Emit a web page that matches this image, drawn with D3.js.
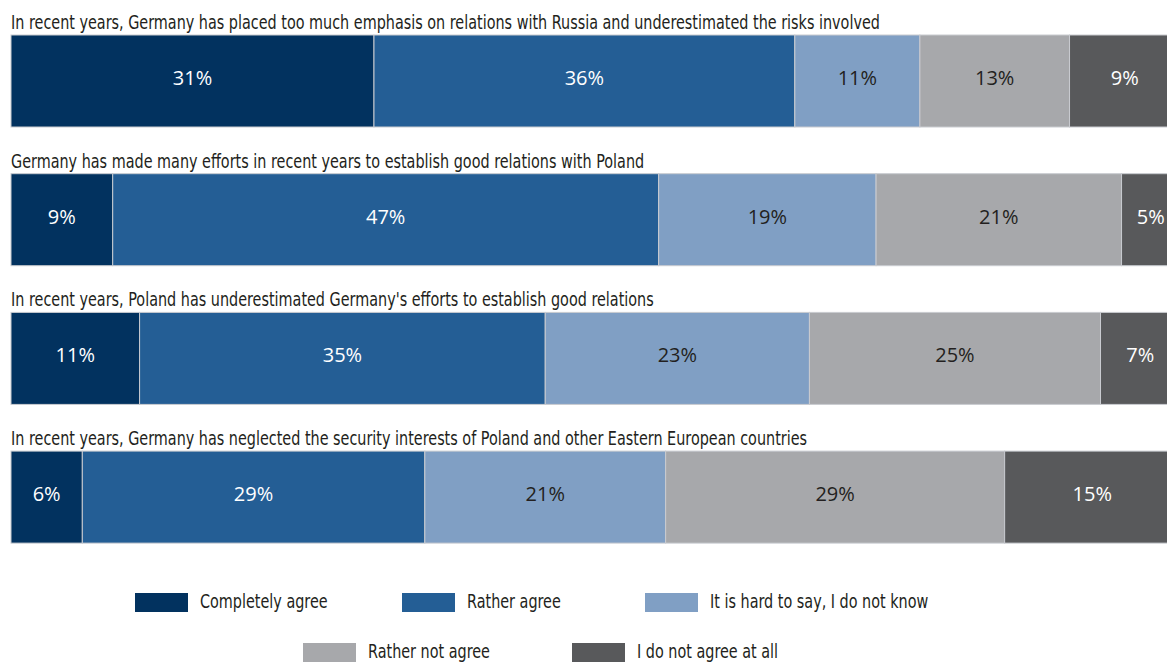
<!DOCTYPE html>
<html>
<head>
<meta charset="utf-8">
<script src="https://cdn.jsdelivr.net/npm/d3@7/dist/d3.min.js"></script>
<style>
  html, body { margin: 0; padding: 0; background: #fff; }
  svg { display: block; }
</style>
</head>
<body>
<svg id="chart" width="1167" height="664"></svg>
<script>
// ---- data ----
const statements = [
  "In recent years, Germany has placed too much emphasis on relations with Russia and underestimated the risks involved",
  "Germany has made many efforts in recent years to establish good relations with Poland",
  "In recent years, Poland has underestimated Germany's efforts to establish good relations",
  "In recent years, Germany has neglected the security interests of Poland and other Eastern European countries"
];
const categories = ["Completely agree", "Rather agree", "It is hard to say, I do not know", "Rather not agree", "I do not agree at all"];
// segment shares (%)
const completelyAgree = [31.05, 8.7, 11.0, 6.1];
const ratherAgree     = [36.0, 46.7, 34.7, 29.3];
const hardToSay       = [10.7, 18.6, 22.6, 20.6];
const ratherNotAgree  = [12.8, 21.0, 24.9, 29.0];
const notAgreeAtAll   = [9.45, 5.0, 6.8, 15.0];
// printed labels (%)
const labelCompletely = [31, 9, 11, 6];
const labelRather     = [36, 47, 35, 29];
const labelHard       = [11, 19, 23, 21];
const labelRatherNot  = [13, 21, 25, 29];
const labelNotAtAll   = [9, 5, 7, 15];

const colors = ["#02325f", "#245e95", "#809fc4", "#a7a8ab", "#58595b"];
const labelColors = ["#ffffff", "#ffffff", "#231f20", "#231f20", "#ffffff"];

const seriesValues = [completelyAgree, ratherAgree, hardToSay, ratherNotAgree, notAgreeAtAll];
const seriesLabels = [labelCompletely, labelRather, labelHard, labelRatherNot, labelNotAtAll];

const rows = statements.map((s, i) => {
  const r = { statement: s };
  categories.forEach((c, k) => { r[c] = seriesValues[k][i]; r["label_" + k] = seriesLabels[k][i]; });
  return r;
});

// ---- layout ----
const svg = d3.select("#chart");
const titleFont = "'DejaVu Sans', sans-serif";
const valueFont = "'Open Sans', 'Noto Sans', sans-serif";
const squeeze = 0.72; // condensed look for titles and legend

const x = d3.scaleLinear().domain([0, 100]).range([11, 1180]);
const y = d3.scaleBand().domain(d3.range(statements.length)).range([35, 543.1]).paddingInner(0.3367).paddingOuter(0);

const stacked = d3.stack().keys(categories)(rows);

const g = svg.append("g");

stacked.forEach((layer, k) => {
  const lg = g.append("g");
  lg.selectAll("rect").data(layer).join("rect")
    .attr("x", d => x(d[0]))
    .attr("y", (d, i) => y(i))
    .attr("width", d => x(d[1]) - x(d[0]))
    .attr("height", y.bandwidth())
    .attr("fill", colors[k])
    .attr("stroke", "#c9cbd0")
    .attr("stroke-width", 1);
  lg.selectAll("text").data(layer).join("text")
    .attr("x", d => (x(d[0]) + x(d[1])) / 2)
    .attr("y", (d, i) => y(i) + y.bandwidth() / 2 - 3)
    .attr("dy", "0.35em")
    .attr("text-anchor", "middle")
    .attr("font-family", valueFont)
    .attr("font-size", 20)
    .attr("fill", labelColors[k])
    .text((d, i) => rows[i]["label_" + k] + "%");
});

// titles
g.selectAll("text.title").data(statements).join("text")
  .attr("class", "title")
  .attr("transform", (d, i) => `translate(11,${y(i) - 6}) scale(${squeeze},1)`)
  .attr("font-family", titleFont)
  .attr("font-size", 20)
  .attr("fill", "#231f20")
  .text(d => d);

// legend
const legendPos = [
  { x: 135, y: 593 }, { x: 402, y: 593 }, { x: 645, y: 593 },
  { x: 303, y: 643 }, { x: 572, y: 643 }
];
const lgd = svg.append("g").selectAll("g").data(categories).join("g")
  .attr("transform", (d, i) => `translate(${legendPos[i].x},${legendPos[i].y})`);
lgd.append("rect").attr("width", 53).attr("height", 19).attr("fill", (d, i) => colors[i]);
lgd.append("text")
  .attr("transform", `translate(65,15) scale(${squeeze},1)`)
  .attr("font-family", titleFont).attr("font-size", 20).attr("fill", "#231f20")
  .text(d => d);
</script>
</body>
</html>
